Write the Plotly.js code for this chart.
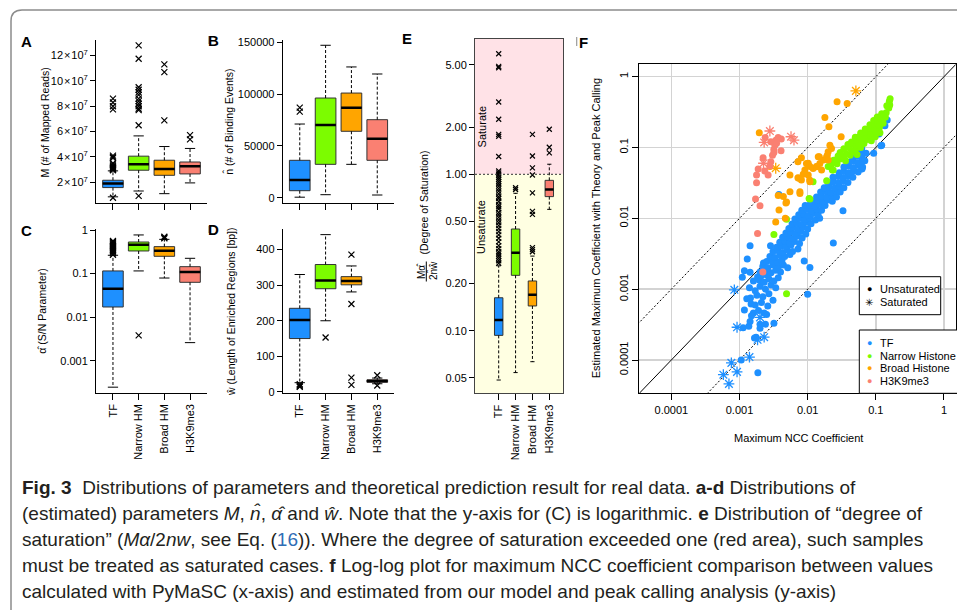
<!DOCTYPE html>
<html><head><meta charset="utf-8">
<script src="https://cdn.plot.ly/plotly-3.0.1.min.js"></script>
<style>html,body{margin:0;padding:0;background:#fff}#plot{width:957px;height:610px}</style>
</head><body><div id="plot"></div>
<script>
const W = 957, H = 610;
const FONT = '"Liberation Sans", Arial, Helvetica, sans-serif';
const CAPFONT = '"Liberation Sans", Arial, sans-serif';

const categories = ['TF', 'Narrow HM', 'Broad HM', 'H3K9me3'];
const groupNames = ['TF', 'Narrow Histone', 'Broad Histone', 'H3K9me3'];
const colors = ['#1E90FF', '#7CFC00', '#FFA500', '#FA8072'];

// ---- Panel A: M (# of mapped reads)
const A_q1 = [1.58e7, 2.95e7, 2.55e7, 2.66e7];
const A_med = [1.90e7, 3.42e7, 3.05e7, 3.27e7];
const A_q3 = [2.16e7, 4.06e7, 3.74e7, 3.60e7];
const A_lo = [0.85e7, 1.31e7, 1.10e7, 1.95e7];
const A_hi = [2.90e7, 5.66e7, 4.82e7, 4.67e7];
const A_out = [
  [0.78e7, 2.95e7, 3.0e7, 3.05e7, 3.1e7, 3.15e7, 3.2e7, 3.3e7, 3.4e7, 3.5e7, 3.9e7, 4.0e7, 4.1e7, 7.75e7, 8.0e7, 8.3e7, 8.6e7],
  [0.92e7, 6.5e7, 7.7e7, 7.8e7, 8.0e7, 8.2e7, 8.4e7, 8.6e7, 8.9e7, 9.1e7, 9.3e7, 9.5e7, 11.75e7, 12.8e7],
  [6.88e7, 10.7e7, 11.3e7],
  [5.38e7, 5.72e7]
];
const A_ticks = [2e7, 4e7, 6e7, 8e7, 10e7, 12e7];
const A_tickText = ['2', '4', '6', '8', '10', '12'].map(s => s + '\u200a×\u200a10<sup>7</sup>');

// ---- Panel B: n-hat
const B_q1 = [6760, 32200, 64100, 36100];
const B_med = [17090, 70200, 86900, 57000];
const B_q3 = [36100, 96200, 101000, 75300];
const B_lo = [500, 2900, 32200, 2600];
const B_hi = [71100, 147100, 126200, 119400];
const B_out = [[83000, 87000], [], [], []];
const B_ticks = [0, 50000, 100000, 150000];

// ---- Panel C: alpha-hat (log)
const C_q1 = [0.0171, 0.33, 0.249, 0.063];
const C_med = [0.045, 0.46, 0.336, 0.109];
const C_q3 = [0.115, 0.53, 0.415, 0.144];
const C_lo = [0.000247, 0.115, 0.079, 0.0026];
const C_hi = [0.263, 0.77, 0.61, 0.224];
const C_out = [[0.27, 0.29, 0.31, 0.33, 0.35, 0.37, 0.39, 0.41, 0.43, 0.45, 0.47, 0.5, 0.53, 0.56], [0.0038], [0.64, 0.67, 0.70], []];
const C_ticks = [0.001, 0.01, 0.1, 1];
const C_tickText = ['0.001', '0.01', '0.1', '1'];

// ---- Panel D: w-hat
const D_q1 = [150, 290, 301, 27];
const D_med = [202, 313, 312, 31];
const D_q3 = [235, 358, 324, 34];
const D_lo = [26, 200, 281, 23];
const D_hi = [330, 442, 354, 39];
const D_out = [[14, 16, 19, 22], [153], [20, 40, 247, 386], [18, 47]];
const D_ticks = [0, 100, 200, 300, 400];

// ---- Panel E: degree of saturation (log)
const E_q1 = [0.0934, 0.226, 0.144, 0.72];
const E_med = [0.117, 0.315, 0.170, 0.80];
const E_q3 = [0.1625, 0.447, 0.208, 0.915];
const E_lo = [0.0484, 0.054, 0.0634, 0.597];
const E_hi = [0.26, 0.756, 0.30, 1.16];
const E_out = [
  [0.27, 0.28, 0.29, 0.30, 0.31, 0.32, 0.335, 0.35, 0.37, 0.39, 0.41, 0.43, 0.45, 0.47, 0.49, 0.51, 0.53, 0.55, 0.57, 0.60, 0.62, 0.64, 0.67, 0.70, 0.72, 0.75, 0.78, 0.81, 0.84, 0.87, 0.90, 0.93, 0.96, 0.99, 1.02, 1.05, 1.3, 1.75, 1.8, 2.25, 2.9, 4.8, 4.9, 5.9],
  [0.80, 0.82],
  [0.32, 0.33, 0.34, 0.555, 0.58, 0.76, 0.99, 1.1, 1.31, 1.8],
  [1.37, 1.49, 1.94]
];
const E_ticks = [0.05, 0.1, 0.2, 0.5, 1, 2, 5];
const E_tickText = ['0.05', '0.10', '0.20', '0.50', '1.00', '2.00', '5.00'];
const E_threshold = 1.0;

// ---- Panel F: [x = Maximum NCC coefficient, y = estimated maximum coefficient]
const tfPts = [
  [1.86e-3,6.6e-5],[1.06e-3,1.0e-4],[1.66e-3,2.04e-4],[1.75e-3,2.1e-4],[1.13e-3,2.86e-4],[1.37e-3,3.0e-4],[1.43e-3,3.5e-4],
  [2.0e-3,2.8e-4],[2.0e-3,3.2e-4],[2.4e-3,3.2e-4],[3.2e-3,3.3e-4],[2.5e-3,4.4e-4],[1.6e-3,4.6e-4],[1.48e-3,6.2e-4],
  [1.18e-3,5.1e-4],[1.28e-3,7.3e-4],[1.1e-3,1.47e-3],[1.18e-3,1.82e-3],[1.43e-3,1.73e-3],[1.3e-3,2.67e-3],[1.43e-3,4.1e-3],
  [2.85e-3,4.1e-3],[2.25e-3,2.34e-3],[1.84e-3,1.48e-3],[1.0e-2,8.5e-4],[1.08e-2,2.03e-3],[8.9e-3,2.5e-3],[2.38e-2,4.5e-3],
  [3.3e-2,1.28e-2],[3.78e-3,2.18e-2],[0.147,0.244],[0.136,0.203],[0.111,0.155],[0.119,0.106],[0.093,0.083],[0.069,0.065],
  [0.058,0.123],[0.122,0.108],[0.063,0.05],[0.0618,0.0497],
  [1.5e-3,4.2e-4],[1.9e-3,5.0e-4],[2.3e-3,4.6e-4],[1.7e-3,6.0e-4],[2.1e-3,6.5e-4],[2.6e-3,5.8e-4],[1.45e-3,7.5e-4],[1.8e-3,8.2e-4],
  [2.2e-3,7.8e-4],[2.7e-3,8.6e-4],[3.1e-3,7.0e-4],
  [1.4e-3,1.05e-3],[1.7e-3,9.5e-4],[2.0e-3,1.1e-3],[2.4e-3,1.0e-3],[2.9e-3,1.15e-3],[3.4e-3,1.05e-3],[1.6e-3,1.3e-3],[1.95e-3,1.35e-3],
  [2.3e-3,1.25e-3],[2.7e-3,1.4e-3],[3.2e-3,1.3e-3],[3.7e-3,1.45e-3],[2.1e-3,1.55e-3],[2.5e-3,1.6e-3],
  [2.0e-3,1.75e-3],[2.4e-3,1.8e-3],[2.9e-3,1.7e-3],[3.4e-3,1.85e-3],[4.0e-3,1.75e-3],[2.2e-3,2.1e-3],[2.6e-3,2.0e-3],[3.1e-3,2.2e-3],
  [3.7e-3,2.05e-3],[4.4e-3,2.2e-3],[5.1e-3,2.0e-3],[2.5e-3,2.45e-3],[3.0e-3,2.5e-3],[3.6e-3,2.4e-3],[4.2e-3,2.55e-3],
  [2.8e-3,2.9e-3],[3.3e-3,2.8e-3],[3.9e-3,3.0e-3],[4.6e-3,2.9e-3],[5.5e-3,3.1e-3],[3.1e-3,3.4e-3],[3.7e-3,3.5e-3],[4.3e-3,3.3e-3],
  [5.0e-3,3.6e-3],[6.0e-3,3.4e-3],[7.2e-3,3.7e-3],[3.5e-3,3.9e-3],[4.1e-3,4.1e-3],[4.8e-3,4.0e-3],[5.7e-3,4.2e-3],
  [3.9e-3,4.6e-3],[4.6e-3,4.8e-3],[5.4e-3,4.5e-3],[6.4e-3,4.7e-3],[7.6e-3,4.4e-3],[4.3e-3,5.4e-3],[5.1e-3,5.5e-3],[6.0e-3,5.2e-3],
  [7.0e-3,5.6e-3],[8.3e-3,5.3e-3],[4.8e-3,6.2e-3],[5.7e-3,6.4e-3],[6.7e-3,6.1e-3],[7.9e-3,6.5e-3],[9.4e-3,6.0e-3],
  [5.3e-3,7.2e-3],[6.2e-3,7.4e-3],[7.3e-3,7.0e-3],[8.6e-3,7.5e-3],[1.0e-2,7.1e-3],[5.9e-3,8.3e-3],[6.9e-3,8.6e-3],[8.1e-3,8.2e-3],
  [9.6e-3,8.8e-3],[1.12e-2,8.4e-3],[6.5e-3,9.8e-3],[7.7e-3,1.0e-2],[9.1e-3,9.6e-3],[1.07e-2,1.02e-2],[1.3e-2,9.5e-3],[1.5e-2,1.0e-2],
  [7.4e-3,1.12e-2],[8.7e-3,1.15e-2],[1.02e-2,1.1e-2],[1.2e-2,1.17e-2],[1.42e-2,1.12e-2],[8.2e-3,1.3e-2],[9.7e-3,1.34e-2],[1.14e-2,1.28e-2],
  [1.35e-2,1.36e-2],[1.6e-2,1.3e-2],[9.2e-3,1.52e-2],[1.08e-2,1.55e-2],[1.27e-2,1.5e-2],[1.5e-2,1.58e-2],[1.8e-2,1.52e-2],
  [1.2e-2,1.75e-2],[1.42e-2,1.8e-2],[1.68e-2,1.72e-2],[1.98e-2,1.82e-2],[2.3e-2,1.75e-2],[1.35e-2,2.0e-2],[1.6e-2,2.05e-2],[1.9e-2,1.98e-2],
  [2.25e-2,2.1e-2],[2.65e-2,2.0e-2],[1.55e-2,2.35e-2],[1.85e-2,2.4e-2],[2.2e-2,2.3e-2],[2.6e-2,2.45e-2],[3.0e-2,2.35e-2],
  [1.75e-2,2.7e-2],[2.1e-2,2.8e-2],[2.5e-2,2.65e-2],[2.9e-2,2.85e-2],[3.4e-2,2.7e-2],[2.0e-2,3.2e-2],[2.4e-2,3.3e-2],[2.85e-2,3.15e-2],
  [3.35e-2,3.35e-2],[3.9e-2,3.2e-2],[2.35e-2,3.8e-2],[2.8e-2,3.9e-2],[3.3e-2,3.75e-2],[3.9e-2,3.95e-2],[4.6e-2,3.8e-2],
  [2.9e-2,4.4e-2],[3.4e-2,4.6e-2],[4.0e-2,4.4e-2],[4.7e-2,4.7e-2],[5.5e-2,4.5e-2],[3.4e-2,5.3e-2],[4.0e-2,5.5e-2],[4.7e-2,5.2e-2],
  [5.5e-2,5.6e-2],[6.4e-2,5.3e-2],[4.0e-2,6.2e-2],[4.7e-2,6.4e-2],[5.5e-2,6.1e-2],[6.4e-2,6.5e-2],
  [4.6e-2,7.2e-2],[5.4e-2,7.5e-2],[6.3e-2,7.1e-2],[5.4e-2,8.4e-2],[6.3e-2,8.7e-2],[7.2e-2,8.3e-2],[6.2e-2,9.8e-2]
];
const tfSat = [[8.4e-4,9.8e-4],[9.2e-4,2.9e-4],[7.6e-4,9.1e-5],[5.8e-4,6.2e-5],[7.0e-4,4.6e-5],[9.2e-4,6.8e-5],[1.4e-3,1.1e-4],[2.3e-3,2.1e-4],[1.84e-3,1.93e-4],[2.0e-3,4.0e-4]];
const narrowPts = [
  [2.2e-2,5.6e-2],[2.7e-2,5.9e-2],[2.4e-2,6.6e-2],[3.0e-2,6.9e-2],[3.6e-2,6.5e-2],[2.8e-2,7.6e-2],[3.4e-2,7.4e-2],[4.2e-2,7.8e-2],
  [3.0e-2,8.5e-2],[3.7e-2,8.2e-2],[4.5e-2,8.8e-2],[5.3e-2,8.0e-2],[3.4e-2,9.6e-2],[4.1e-2,9.9e-2],[5.0e-2,9.4e-2],[6.0e-2,1.0e-1],
  [3.9e-2,1.1e-1],[4.7e-2,1.12e-1],[5.6e-2,1.08e-1],[6.7e-2,1.14e-1],
  [4.4e-2,1.2e-1],[5.2e-2,1.26e-1],[6.2e-2,1.22e-1],[7.4e-2,1.3e-1],[8.6e-2,1.25e-1],[5.0e-2,1.4e-1],[5.9e-2,1.45e-1],[7.0e-2,1.38e-1],
  [8.3e-2,1.48e-1],[9.8e-2,1.42e-1],[6.0e-2,1.6e-1],[7.1e-2,1.65e-1],[8.4e-2,1.58e-1],[9.9e-2,1.7e-1],[1.15e-1,1.62e-1],[7.0e-2,1.82e-1],
  [8.3e-2,1.88e-1],[9.7e-2,1.8e-1],[1.13e-1,1.92e-1],
  [8.2e-2,2.1e-1],[9.6e-2,2.15e-1],[1.12e-1,2.08e-1],[1.28e-1,2.2e-1],[9.3e-2,2.4e-1],[1.08e-1,2.45e-1],[1.25e-1,2.38e-1],[1.05e-1,2.7e-1],
  [1.2e-1,2.75e-1],[1.38e-1,2.68e-1],[1.22e-1,3.0e-1],[1.42e-1,3.1e-1],
  [1.55e-1,3.6e-1],[1.6e-1,4.0e-1],[1.58e-1,4.5e-1],[1.62e-1,4.9e-1],[1.45e-1,3.9e-1],
  [2.24e-2,6.3e-2],[2.37e-2,4.8e-2],[1.05e-2,1.9e-2],[1.2e-2,3.3e-2],[3.2e-3,5.9e-3],[4.9e-3,8.6e-4],[1.08e-2,1.87e-2],[1.9e-2,3.4e-2],
  [4.9e-3,9.7e-3],[2.0e-2,5.4e-2],[2.3e-2,4.8e-2],[2.5e-2,6.6e-2]
];
const narrowSat = [];
const broadPts = [
  [2.7e-2,0.444],[3.8e-2,0.42],[1.79e-2,0.266],[2.05e-2,0.197],[3.1e-2,0.142],[2.12e-2,0.108],[2.24e-2,0.097],[2.0e-2,0.087],
  [1.9e-2,0.074],[1.7e-2,0.0665],[1.43e-2,0.074],[1.51e-2,0.0597],[1.35e-2,0.0537],[1.2e-2,0.0507],[9.6e-3,0.0597],[9.1e-3,0.048],
  [1.02e-2,0.041],[1.07e-2,0.0347],[8.1e-3,0.0347],[7.7e-3,0.0225],[8.1e-3,0.072],[7.2e-3,0.063],[1.02e-2,0.060],[8.6e-3,0.042],
  [7.4e-3,0.0367],[5.5e-3,0.041],[5.5e-3,0.0238],[7.7e-3,0.0238],[3.7e-3,0.021],[4.4e-3,0.0203],[4.9e-3,0.017],[4.8e-3,0.0165],
  [3.8e-3,0.0131],[4.7e-3,0.010],[3.4e-3,0.0089],[1.95e-3,0.162],[2.8e-3,0.054],[1.94e-2,0.078],[1.48e-2,0.074],[1.08e-2,0.054],
  [1.35e-2,0.054],[1.6e-2,0.048],[2.0e-2,0.0665],[1.08e-2,0.0329],[1.0e-2,0.0584],[7.2e-3,0.0374]
];
const broadSat = [[3.4e-3,0.051],[0.051,0.63]];
const h3kPts = [
  [3.69e-3,0.139],[4.1e-3,0.132],[3.41e-3,0.127],[3.3e-3,0.108],[3.19e-3,0.094],[4.07e-3,0.09],[3.05e-3,0.078],[2.88e-3,0.063],
  [2.79e-3,0.0547],[2.38e-3,0.139],[2.88e-3,0.121],[2.22e-3,0.0718],[2.35e-3,0.0466],[1.88e-3,0.0497],[2.63e-3,0.0408],[1.78e-3,0.0408],
  [1.78e-3,0.0318],[1.72e-3,0.0187],[2.0e-3,0.0151],[1.84e-3,6.1e-3],[2.2e-3,1.75e-3],[3.5e-3,0.115],[3.2e-3,0.085]
];
const h3kSat = [[2.79e-3,0.171],[2.3e-3,0.118],[5.7e-3,0.142],[6.3e-3,0.127],[2.25e-3,0.06]];
const F_ticks = [1e-4, 1e-3, 1e-2, 1e-1, 1];
const F_tickText = ['0.0001', '0.001', '0.01', '0.1', '1'];
const refLineX = [1e-6, 100];
const refFactors = [1, 10, 0.1];

// ---------- helpers ----------
const PX = x => x / W, PY = y => 1 - y / H;
const domX = (a, b) => [a / W, b / W];
const domY = (top, bot) => [1 - bot / H, 1 - top / H];
const traces = [];

function boxPanel(n, q1, med, q3, lo, hi, outs, bw, xsize) {
  const xa = 'x' + (n === 1 ? '' : n), ya = 'y' + (n === 1 ? '' : n);
  const wx = [], wy = [], cx = [], cy = [], mx = [], my = [], ox = [], oy = [];
  for (let i = 0; i < q1.length; i++) {
    const p = i + 1, c = bw / 4, h = bw / 2;
    wx.push(p, p, null, p, p, null); wy.push(q3[i], hi[i], null, q1[i], lo[i], null);
    cx.push(p - c, p + c, null, p - c, p + c, null); cy.push(hi[i], hi[i], null, lo[i], lo[i], null);
    mx.push(p - h, p + h, null); my.push(med[i], med[i], null);
    outs[i].forEach(v => { ox.push(p); oy.push(v); });
    traces.push({type: 'box', x: [p], q1: [q1[i]], median: [med[i]], q3: [q3[i]], lowerfence: [q1[i]], upperfence: [q3[i]],
      width: bw, whiskerwidth: 0, boxpoints: false, fillcolor: colors[i], line: {color: '#333', width: 1},
      xaxis: xa, yaxis: ya, hoverinfo: 'skip', showlegend: false});
  }
  traces.push({type: 'scatter', mode: 'lines', x: wx, y: wy, xaxis: xa, yaxis: ya, line: {color: '#000', width: 1, dash: '3px,2px'}, hoverinfo: 'skip', showlegend: false});
  traces.push({type: 'scatter', mode: 'lines', x: cx, y: cy, xaxis: xa, yaxis: ya, line: {color: '#000', width: 1}, hoverinfo: 'skip', showlegend: false});
  traces.push({type: 'scatter', mode: 'lines', x: mx, y: my, xaxis: xa, yaxis: ya, line: {color: '#000', width: 2.5}, hoverinfo: 'skip', showlegend: false});
  traces.push({type: 'scatter', mode: 'markers', x: ox, y: oy, xaxis: xa, yaxis: ya, cliponaxis: false,
    marker: {symbol: 'x-thin-open', size: xsize, color: '#000', line: {color: '#000', width: 1.2}}, hoverinfo: 'skip', showlegend: false});
}

boxPanel(1, A_q1, A_med, A_q3, A_lo, A_hi, A_out, 0.8, 6);
boxPanel(2, B_q1, B_med, B_q3, B_lo, B_hi, B_out, 0.8, 6);
boxPanel(3, C_q1, C_med, C_q3, C_lo, C_hi, C_out, 0.8, 6);
boxPanel(4, D_q1, D_med, D_q3, D_lo, D_hi, D_out, 0.8, 6);
boxPanel(5, E_q1, E_med, E_q3, E_lo, E_hi, E_out, 0.5, 5);

// Panel F reference lines
refFactors.forEach(f => {
  traces.push({type: 'scatter', mode: 'lines', x: refLineX, y: refLineX.map(v => v * f), xaxis: 'x6', yaxis: 'y6',
    line: {color: '#000', width: 1, dash: f === 1 ? 'solid' : '2px,2px'}, hoverinfo: 'skip', showlegend: false});
});
const Fgroups = [[tfPts, tfSat], [narrowPts, narrowSat], [broadPts, broadSat], [h3kPts, h3kSat]];
Fgroups.forEach((g, i) => {
  traces.push({type: 'scatter', mode: 'markers', x: g[0].map(p => p[0]), y: g[0].map(p => p[1]), xaxis: 'x6', yaxis: 'y6',
    marker: {symbol: 'circle', size: 7, color: colors[i]}, hoverinfo: 'skip', showlegend: false});
  traces.push({type: 'scatter', mode: 'markers', x: g[1].map(p => p[0]), y: g[1].map(p => p[1]), xaxis: 'x6', yaxis: 'y6',
    marker: {symbol: 'asterisk-open', size: 9, color: colors[i], line: {color: colors[i], width: 1.3}}, hoverinfo: 'skip', showlegend: false});
});

// ---------- axes ----------
function ax(o) {
  return Object.assign({showline: true, linecolor: '#000', linewidth: 1, ticks: 'outside', ticklen: 5, tickwidth: 1, tickcolor: '#000',
    showgrid: false, zeroline: false, fixedrange: true, tickfont: {family: FONT, size: 11, color: '#000'}}, o);
}
const catTicks = {tickvals: [1, 2, 3, 4], ticktext: categories, type: 'linear', ticklen: 6};
const layout = {
  width: W, height: H, margin: {l: 0, r: 0, t: 0, b: 0}, paper_bgcolor: '#fff', plot_bgcolor: 'rgba(0,0,0,0)',
  showlegend: false, boxmode: 'overlay', font: {family: FONT, size: 11, color: '#000'},
  xaxis: ax(Object.assign({}, catTicks, {domain: domX(96, 207), anchor: 'y', range: [0.34, 4.66], showticklabels: false})),
  yaxis: ax({domain: domY(40, 203.3), anchor: 'x', range: [0.34e7, 13.23e7], tickvals: A_ticks, ticktext: A_tickText}),
  xaxis2: ax(Object.assign({}, catTicks, {domain: domX(282.7, 394.3), anchor: 'y2', range: [0.34, 4.66], showticklabels: false})),
  yaxis2: ax({domain: domY(40, 203.3), anchor: 'x2', range: [-5400, 152200], tickvals: B_ticks, ticktext: B_ticks.map(String)}),
  xaxis3: ax(Object.assign({}, catTicks, {domain: domX(96, 207), anchor: 'y3', range: [0.34, 4.66], tickangle: -90})),
  yaxis3: ax({domain: domY(229.3, 392.7), anchor: 'x3', type: 'log', range: [-3.734, 0.016], tickvals: C_ticks, ticktext: C_tickText}),
  xaxis4: ax(Object.assign({}, catTicks, {domain: domX(282.7, 394.3), anchor: 'y4', range: [0.34, 4.66], tickangle: -90})),
  yaxis4: ax({domain: domY(229.3, 393), anchor: 'x4', range: [-3, 457], tickvals: D_ticks, ticktext: D_ticks.map(String)}),
  xaxis5: ax(Object.assign({}, catTicks, {domain: domX(475, 563.3), anchor: 'y5', range: [-0.405, 4.83], tickangle: -90, mirror: true, linecolor: '#444'})),
  yaxis5: ax({domain: domY(39, 393.3), anchor: 'x5', type: 'log', range: [-1.40, 0.865], tickvals: E_ticks, ticktext: E_tickText, mirror: true, linecolor: '#444'}),
  xaxis6: ax({domain: domX(639.3, 955.7), anchor: 'y6', type: 'log', range: [-4.47, 0.172], tickvals: F_ticks, ticktext: F_tickText,
    showgrid: true, gridcolor: '#d3d3d3', gridwidth: 1.5, mirror: true, ticklen: 6}),
  yaxis6: ax({domain: domY(64.3, 393.3), anchor: 'x6', type: 'log', range: [-4.47, 0.175], tickvals: F_ticks, ticktext: F_tickText,
    showgrid: true, gridcolor: '#d3d3d3', gridwidth: 1.5, mirror: true, ticklen: 6, tickangle: -90}),
  shapes: [], annotations: []
};

// Panel E background regions
const eTop = Math.pow(10, layout.yaxis5.range[1]), eBot = Math.pow(10, layout.yaxis5.range[0]);
layout.shapes.push({type: 'rect', xref: 'x5 domain', yref: 'y5', x0: 0, x1: 1, y0: E_threshold, y1: eTop, fillcolor: '#FFE2E7', line: {width: 0}, layer: 'below'});
layout.shapes.push({type: 'rect', xref: 'x5 domain', yref: 'y5', x0: 0, x1: 1, y0: eBot, y1: E_threshold, fillcolor: '#FFFFE2', line: {width: 0}, layer: 'below'});
layout.shapes.push({type: 'line', xref: 'x5 domain', yref: 'y5', x0: 0, x1: 1, y0: E_threshold, y1: E_threshold, line: {color: '#333', width: 1, dash: '2px,2px'}});

// Outer rounded frame and small marks
const fx = PX(11), fy = PY(10);
layout.shapes.push({type: 'path', xref: 'paper', yref: 'paper',
  path: `M ${fx},-0.1 L ${fx},${PY(21)} Q ${fx},${fy} ${PX(22)},${fy} L 1.1,${fy}`, line: {color: '#8c8c8c', width: 1.5}});
[[209, 36, 44], [209, 226, 233], [576.7, 37, 46]].forEach(m => layout.shapes.push({type: 'line', xref: 'paper', yref: 'paper',
  x0: PX(m[0]), x1: PX(m[0]), y0: PY(m[1]), y1: PY(m[2]), line: {color: '#999', width: 1.2}}));

// Legend boxes for F
function rectPx(x0, y0, x1, y1) {
  return {type: 'rect', xref: 'paper', yref: 'paper', x0: PX(x0), x1: PX(x1), y0: PY(y1), y1: PY(y0), fillcolor: '#fff', line: {color: '#000', width: 1}, layer: 'above'};
}
layout.shapes.push(rectPx(859.3, 276.7, 940.7, 314.7));
layout.shapes.push(rectPx(859.3, 330, 960, 393.3));

function ann(x, y, text, o) {
  return Object.assign({xref: 'paper', yref: 'paper', x: PX(x), y: PY(y), text, showarrow: false, xanchor: 'center', yanchor: 'middle',
    font: {family: FONT, size: 11, color: '#000'}}, o || {});
}
const A = layout.annotations;
// panel letters
[['A', 26.7, 41], ['B', 213.3, 40.5], ['C', 26.7, 230.5], ['D', 213.3, 229.8], ['E', 406.7, 39], ['F', 583.5, 42]].forEach(l =>
  A.push(ann(l[1], l[2], '<b>' + l[0] + '</b>', {font: {family: FONT, size: 15, color: '#000'}})));
// axis titles
const T10 = {family: FONT, size: 10.5, color: '#000'};
A.push(ann(44.5, 123, 'M (# of Mapped Reads)', {textangle: -90, font: T10}));
A.push(ann(229, 121.7, 'n\u0302 (# of Binding Events)', {textangle: -90, font: T10}));
A.push(ann(42, 311.7, '\u03b1\u0302 (S/N Parameter)', {textangle: -90, font: T10}));
A.push(ann(231, 312, '\u0175 (Length of Enriched Regions [bp])', {textangle: -90, font: T10}));
A.push(ann(423.5, 203, '(Degree of Saturation)', {textangle: -90, font: T10}));
A.push(ann(421, 271, 'M\u03b1\u0302', {textangle: -90, font: {family: FONT, size: 10, color: '#000'}}));
A.push(ann(432, 271, '2n\u0302\u0175', {textangle: -90, font: {family: FONT, size: 10, color: '#000'}}));
layout.shapes.push({type: 'line', xref: 'paper', yref: 'paper', x0: PX(426.3), x1: PX(426.3), y0: PY(261.5), y1: PY(281.5), line: {color: '#000', width: 1}});
A.push(ann(481.7, 126.7, 'Saturate', {textangle: -90}));
A.push(ann(481.7, 227.3, 'Unsaturate', {textangle: -90}));
A.push(ann(798.3, 437.7, 'Maximum NCC Coefficient'));
A.push(ann(596, 228.3, 'Estimated Maximum Coefficient with Theory and Peak Calling', {textangle: -90}));
// legend entries
A.push(ann(869.3, 289.3, '\u25cf', {font: {family: FONT, size: 9, color: '#000'}}));
A.push(ann(869.3, 302.3, '\u2733', {font: {family: '"DejaVu Sans", sans-serif', size: 10, color: '#000'}}));
A.push(ann(878.3, 289.3, 'Unsaturated', {xanchor: 'left'}));
A.push(ann(878.3, 302.3, 'Saturated', {xanchor: 'left'}));
[342.7, 355.7, 368.3, 381].forEach((y, i) => {
  A.push(ann(869.3, y, '\u25cf', {font: {family: FONT, size: 9, color: colors[i]}}));
  A.push(ann(878.3, y, groupNames[i], {xanchor: 'left'}));
});
// caption
const capLines = [
  '<b>Fig. 3</b>  Distributions of parameters and theoretical prediction result for real data. <b>a-d</b> Distributions of',
  '(estimated) parameters <i>M</i>, <i>n\u0302</i>, <i>\u03b1\u0302</i> and <i>\u0175</i>. Note that the y-axis for (C) is logarithmic. <b>e</b> Distribution of \u201cdegree of',
  'saturation\u201d (<i>M\u03b1</i>/2<i>nw</i>, see Eq. (<span style="color:#2f6db5">16</span>)). Where the degree of saturation exceeded one (red area), such samples',
  'must be treated as saturated cases. <b>f</b> Log-log plot for maximum NCC coefficient comparison between values',
  'calculated with PyMaSC (x-axis) and estimated from our model and peak calling analysis (y-axis)'
];
const capY = [487, 513, 539, 565, 591];
capLines.forEach((t, i) => A.push(ann(20, capY[i], t, {xanchor: 'left', font: {family: CAPFONT, size: 19, color: '#231f20'}})));

Plotly.newPlot('plot', traces, layout, {staticPlot: true, displayModeBar: false});
</script></body></html>
